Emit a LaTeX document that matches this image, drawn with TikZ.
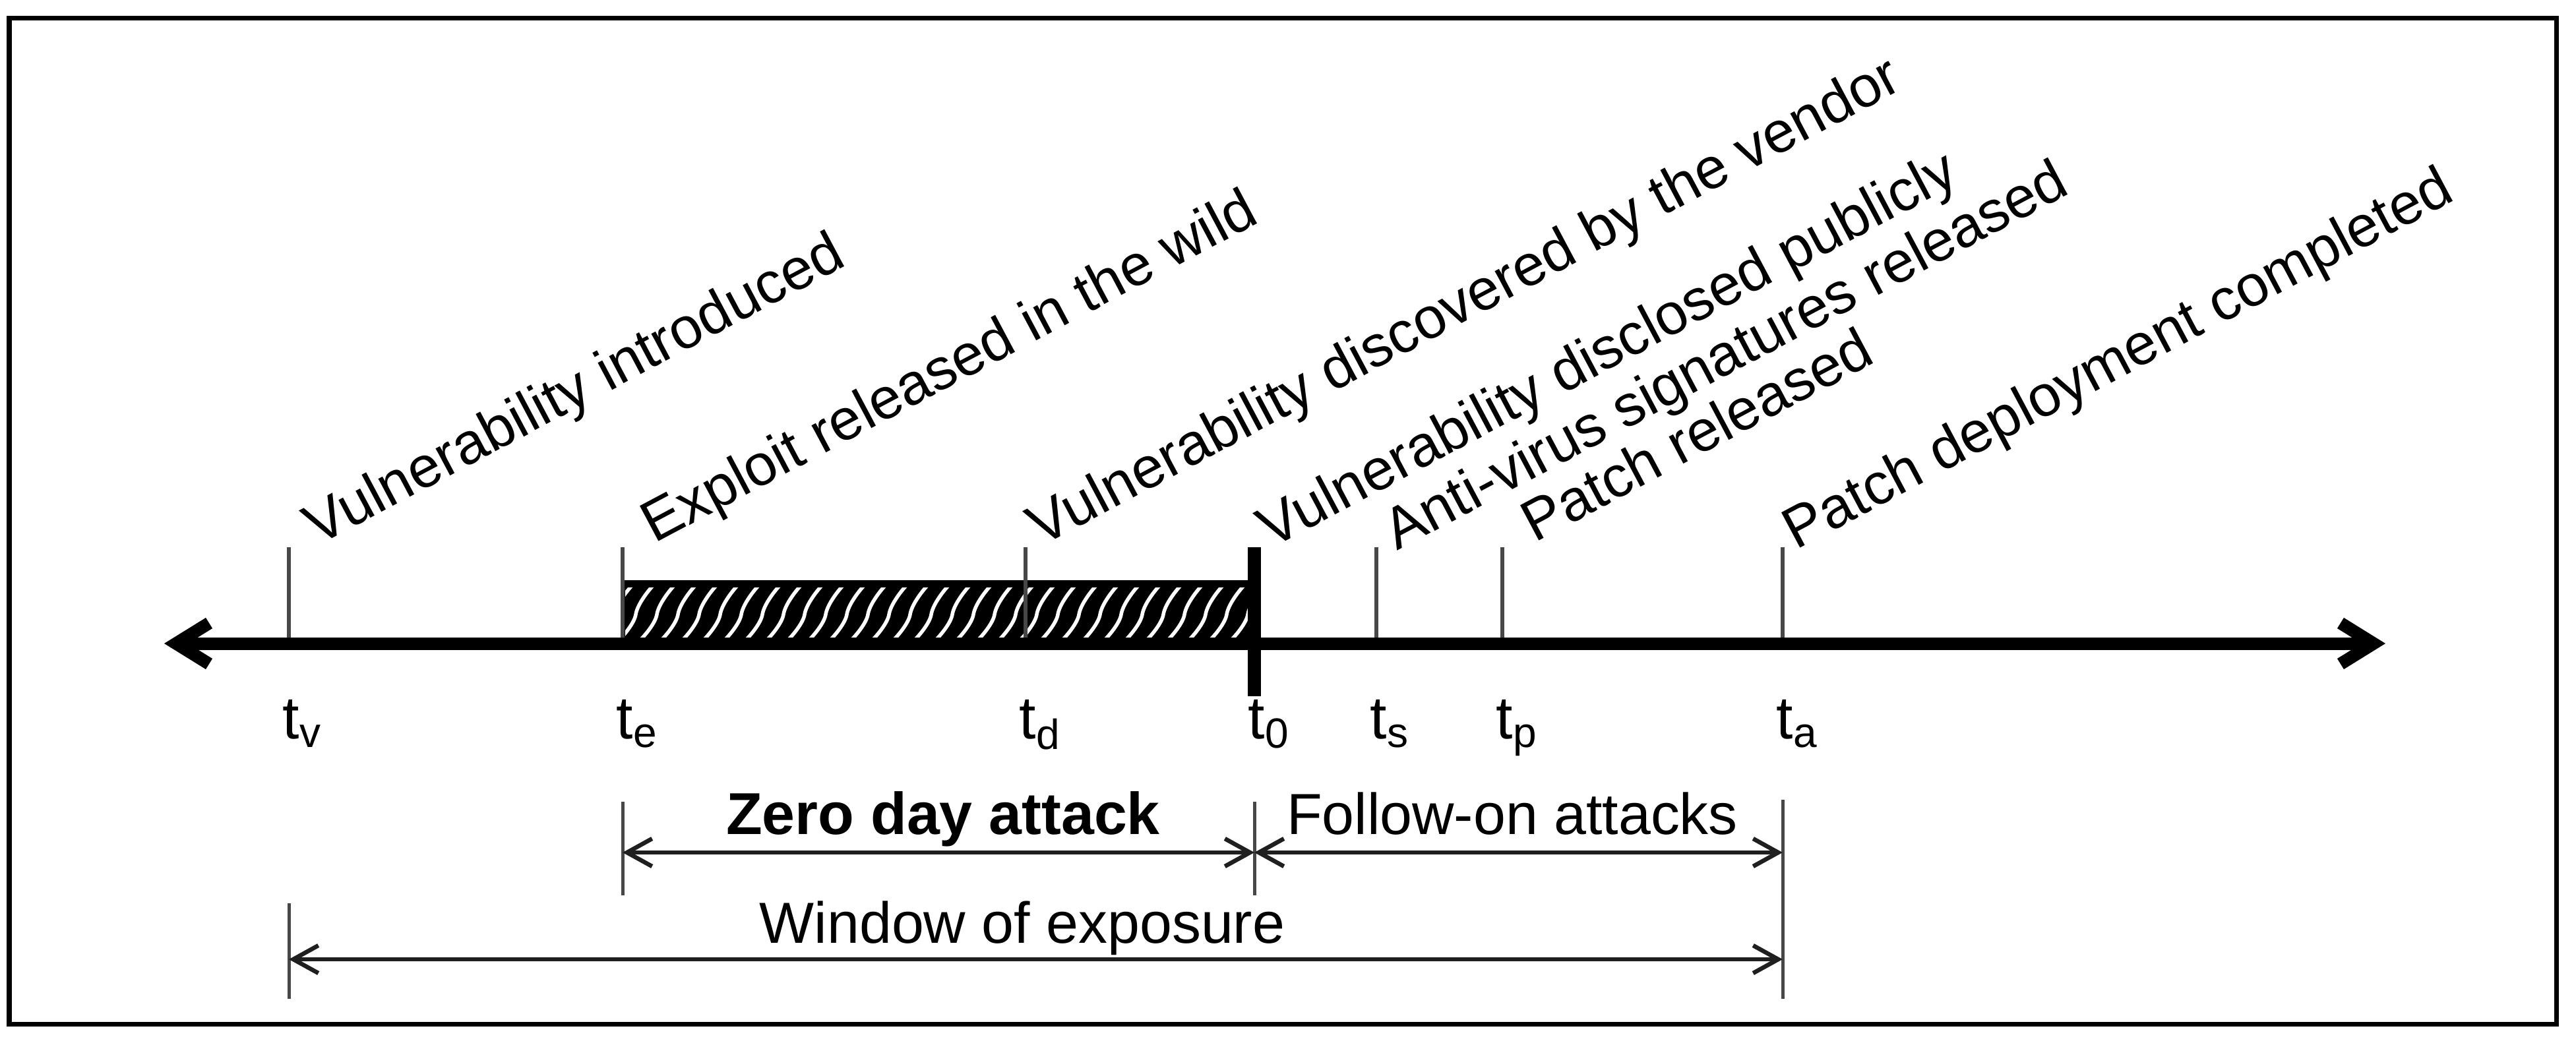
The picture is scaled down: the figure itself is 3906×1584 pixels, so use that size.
\documentclass[tikz,border=0pt]{standalone}
\usepackage{fontspec}
\setmainfont{Liberation Sans}
\usetikzlibrary{arrows.meta}
\begin{document}
\begin{tikzpicture}[x=0.01cm,y=-0.01cm,
  txt/.style={font=\fontsize{25}{30}\selectfont, inner sep=0pt},
  evlbl/.style={txt, anchor=base west, rotate=28},
  tlbl/.style={font=\fontsize{26}{30}\selectfont, inner sep=0pt, anchor=base west},
  dimtxt/.style={txt, anchor=base},
  tickln/.style={line width=0.06cm, black!72},
  dimbar/.style={line width=0.05cm, black!72},
  dimarr/.style={line width=0.065cm, black!88,
    {Straight Barb[length=0.38cm,width=0.42cm]}-{Straight Barb[length=0.38cm,width=0.42cm]}},
  axisarr/.style={line width=0.19cm, black,
    {Straight Barb[length=0.5cm,width=0.62cm]}-{Straight Barb[length=0.5cm,width=0.62cm]}},
  frameln/.style={line width=0.07cm, black}
]
\useasboundingbox (0,0) rectangle (3906,1584);
\draw[frameln] (14,27) rectangle (3876,1553);

% tick positions on the axis
\coordinate (tv) at (438,976);
\coordinate (te) at (944,976);
\coordinate (td) at (1555,976);
\coordinate (t0) at (1902,976);
\coordinate (ts) at (2087,976);
\coordinate (tp) at (2278,976);
\coordinate (ta) at (2703,976);
\coordinate (axL) at (249,976);
\coordinate (axR) at (3617,976);

% hatched zero-day bar
\fill[black] (944,880) rectangle (1902,976);
\begin{scope}
  \clip (948,891) rectangle (1896,972);
  \foreach \x in {860,892,...,1930} {
    \draw[white, line width=0.055cm]
      (\x,985) .. controls (\x+20,968) and (\x+38,945) .. (\x+40,932)
               .. controls (\x+42,918) and (\x+58,895) .. (\x+76,878);
  }
\end{scope}

% ticks
\foreach \t in {tv,te,td,ts,tp,ta} {
  \draw[tickln] (\t) -- ++(0,-146);
}
\draw[line width=0.2cm, black] (1902,830) -- (1902,1056);

% main axis
\draw[axisarr] (axL) -- (axR);

% event labels
\node[evlbl] (lv) at (481,829) {Vulnerability introduced};
\node[evlbl] (le) at (992,825) {Exploit released in the wild};
\node[evlbl] (ld) at (1578,830) {Vulnerability discovered by the vendor};
\node[evlbl] (l0) at (1927,833) {Vulnerability disclosed publicly};
\node[evlbl] (ls) at (2118,836) {Anti-virus signatures released};
\node[evlbl] (lp) at (2327,824) {Patch released};
\node[evlbl] (la) at (2723,835) {Patch deployment completed};

% time labels
\node[tlbl] (ntv) at (428,1120) {t\textsubscript{v}};
\node[tlbl] (nte) at (934,1120) {t\textsubscript{e}};
\node[tlbl] (ntd) at (1545,1120) {t\textsubscript{d}};
\node[tlbl] (nt0) at (1892,1120) {t\textsubscript{0}};
\node[tlbl] (nts) at (2077,1120) {t\textsubscript{s}};
\node[tlbl] (ntp) at (2268,1120) {t\textsubscript{p}};
\node[tlbl] (nta) at (2693,1120) {t\textsubscript{a}};

% dimension bars
\coordinate (zA) at (944,1293);
\coordinate (zB) at (1902,1293);
\coordinate (zC) at (2703,1293);
\coordinate (wA) at (438,1455);
\coordinate (wB) at (2703,1455);
\draw[dimbar] (944,1216) -- (944,1358);
\draw[dimbar] (1902,1216) -- (1902,1358);
\draw[dimbar] (2703,1213) -- (2703,1515);
\draw[dimbar] (438,1370) -- (438,1515);
\draw[dimarr] (zA) -- (zB);
\draw[dimarr] (zB) -- (zC);
\draw[dimarr] (wA) -- (wB);

\node[dimtxt, font=\fontsize{25.5}{30}\selectfont\bfseries] (zd) at (1430,1265) {Zero day attack};
\node[dimtxt] (fo) at (2293,1265) {Follow-on attacks};
\node[dimtxt] (we) at (1550,1430) {Window of exposure};
\end{tikzpicture}
\end{document}
